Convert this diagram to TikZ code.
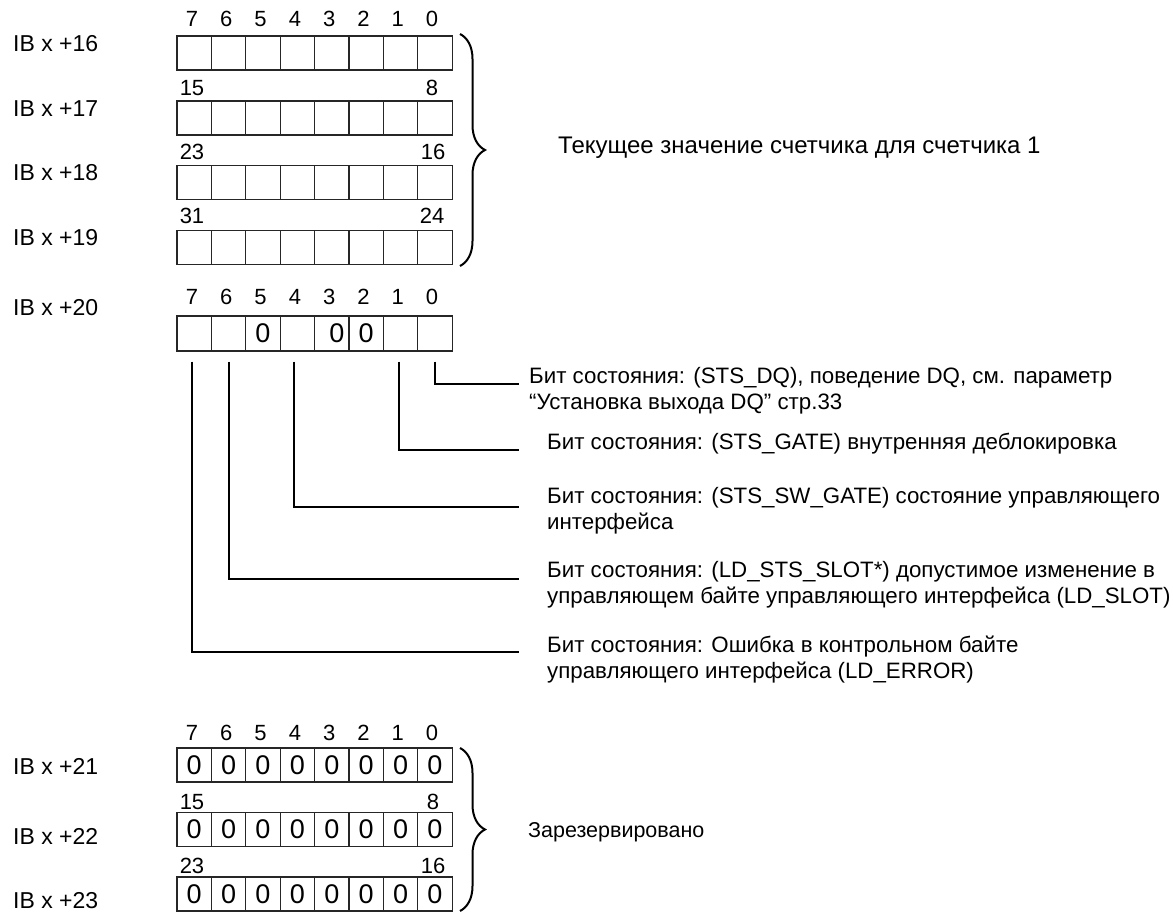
\documentclass[tikz,border=0pt]{standalone}
\usepackage{fontspec}
\setmainfont{Liberation Sans}
\usetikzlibrary{decorations.pathreplacing}
\begin{document}
\begin{tikzpicture}[x=1pt,y=-1pt,
  cell/.style={draw=black!85, line width=1.3pt, minimum width=34.4pt, minimum height=34pt, inner sep=0pt, font=\fontsize{27}{28}\selectfont},
  bitnum/.style={anchor=base, inner sep=0pt, font=\fontsize{22}{26}\selectfont},
  iblabel/.style={anchor=base west, inner sep=0pt, font=\fontsize{23}{26}\selectfont},
  desc/.style={anchor=base west, inner sep=0pt, font=\fontsize{22.3}{26.5}\selectfont},
  conn/.style={line width=2pt, black},
  brc/.style={decorate, decoration={brace, amplitude=25pt, aspect=0.5}, line width=2pt}
]
\useasboundingbox (0,0) rectangle (1173,912);

% ---- counter value bytes IB x+16 .. +19
\foreach \r/\yc in {16/53, 17/118, 18/182.5, 19/247.5} {
  \foreach \i in {0,...,7} {
    \node[cell] (c\r-\i) at ({194.2+(7-\i)*34.4}, \yc) {};
  }
}
\foreach \i in {0,...,7} \node[bitnum] (h16-\i) at ({192+(7-\i)*34.3}, 27) {\i};
\node[bitnum] (n15) at (192,96) {15};
\node[bitnum] (n8) at (432,96) {8};
\node[bitnum] (n23) at (192,160) {23};
\node[bitnum] (n16) at (433,160) {16};
\node[bitnum] (n31) at (192,224) {31};
\node[bitnum] (n24) at (432,224) {24};

\node[iblabel] (ib16) at (13,52) {IB x +16};
\node[iblabel] (ib17) at (13,117) {IB x +17};
\node[iblabel] (ib18) at (13,181) {IB x +18};
\node[iblabel] (ib19) at (13,246) {IB x +19};

\coordinate (bt1) at (460,34);
\coordinate (bb1) at (460,266);
\draw[brc] (bt1) -- (bb1);
\node[desc, font=\fontsize{24}{28}\selectfont] (tcnt) at (558,154) {Текущее значение счетчика для счетчика 1};

% ---- status byte IB x+20
\foreach \i/\t in {7/,6/,5/0,4/,3/\hspace*{10pt}0,2/0,1/,0/} {
  \node[cell, minimum height=35pt] (c20-\i) at ({194.2+(7-\i)*34.4}, 333.5) {\t};
}
\foreach \i in {0,...,7} \node[bitnum] (h20-\i) at ({192+(7-\i)*34.3}, 305) {\i};
\node[iblabel] (ib20) at (13,315) {IB x +20};

\coordinate (e0) at (519,384);
\coordinate (e1) at (519,450);
\coordinate (e4) at (519,507);
\coordinate (e6) at (519,579);
\coordinate (e7) at (519,652);
\draw[conn] ([yshift=-10pt]c20-0.south) |- (e0);
\draw[conn] ([xshift=-2pt,yshift=-10pt]c20-1.south) |- (e1);
\draw[conn] ([xshift=-3.5pt,yshift=-10pt]c20-4.south) |- (e4);
\draw[conn] ([yshift=-10pt]c20-6.south) |- (e6);
\draw[conn] ([xshift=-2pt,yshift=-10pt]c20-7.south) |- (e7);

\node[desc] (t0) at (529,383) {\begin{tabular}[t]{@{}l@{}}Бит состояния: (STS\_DQ), поведение DQ, см. параметр\\“Установка выхода DQ” стр.33\end{tabular}};
\node[desc] (t1) at (547,449) {Бит состояния: (STS\_GATE) внутренняя деблокировка};
\node[desc] (t4) at (547,503) {\begin{tabular}[t]{@{}l@{}}Бит состояния: (STS\_SW\_GATE) состояние управляющего\\интерфейса\end{tabular}};
\node[desc] (t6) at (547,577) {\begin{tabular}[t]{@{}l@{}}Бит состояния: (LD\_STS\_SLOT*) допустимое изменение в\\управляющем байте управляющего интерфейса (LD\_SLOT)\end{tabular}};
\node[desc] (t7) at (547,652) {\begin{tabular}[t]{@{}l@{}}Бит состояния: Ошибка в контрольном байте\\управляющего интерфейса (LD\_ERROR)\end{tabular}};

% ---- reserved bytes IB x+21 .. +23
\foreach \r/\yc in {21/765, 22/829.5, 23/894} {
  \foreach \i in {0,...,7} {
    \node[cell] (c\r-\i) at ({194.2+(7-\i)*34.4}, \yc) {0};
  }
}
\foreach \i in {0,...,7} \node[bitnum] (h21-\i) at ({192+(7-\i)*34.3}, 740) {\i};
\node[bitnum] (m15) at (192,809) {15};
\node[bitnum] (m8) at (433,809) {8};
\node[bitnum] (m23) at (192,873) {23};
\node[bitnum] (m16) at (433,873) {16};

\node[iblabel] (ib21) at (13,774) {IB x +21};
\node[iblabel] (ib22) at (13,844) {IB x +22};
\node[iblabel] (ib23) at (13,908) {IB x +23};

\coordinate (bt2) at (460,748);
\coordinate (bb2) at (460,911);
\draw[brc] (bt2) -- (bb2);
\node[desc, font=\fontsize{21.5}{26}\selectfont] (tres) at (528,837) {Зарезервировано};
\end{tikzpicture}
\end{document}
